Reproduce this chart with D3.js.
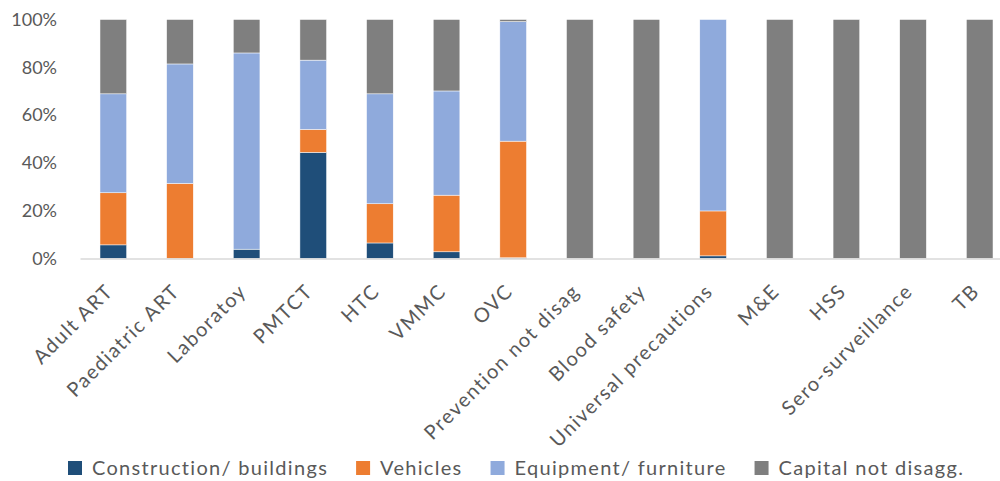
<!DOCTYPE html>
<html>
<head>
<meta charset="utf-8">
<script src="https://cdn.jsdelivr.net/npm/d3@7"></script>
<style>
  html, body { margin: 0; padding: 0; background: #fff; }
  svg { display: block; font-family: Lato, "Open Sans", sans-serif; }
</style>
</head>
<body>
<svg id="chart" width="1000" height="481"></svg>
<script>
// Programme areas along the x axis
const categories = [
  "Adult ART", "Paediatric ART", "Laboratoy", "PMTCT", "HTC", "VMMC", "OVC",
  "Prevention not disag", "Blood safety", "Universal precautions", "M&E", "HSS",
  "Sero-surveillance", "TB"
];

// Share of capital spending (%) by type, one value per programme area
const construction = [5.7, 0, 3.9, 44.4, 6.5, 2.8, 0.3, 0, 0, 1.1, 0, 0, 0, 0];
const vehicles     = [21.8, 31.4, 0, 9.6, 16.4, 23.7, 48.8, 0, 0, 18.8, 0, 0, 0, 0];
const equipment    = [41.4, 50.0, 82.1, 29.0, 46.0, 43.6, 50.0, 0, 0, 80.1, 0, 0, 0, 0];
const notDisagg    = [31.1, 18.6, 14.0, 17.0, 31.1, 29.9, 0.9, 100, 100, 0, 100, 100, 100, 100];

const seriesNames = ["Construction/ buildings", "Vehicles", "Equipment/ furniture", "Capital not disagg."];
const seriesValues = [construction, vehicles, equipment, notDisagg];
const colors = ["#1f4e79", "#ed7d31", "#8faadc", "#7f7f7f"];

const yTicks = [0, 20, 40, 60, 80, 100];

const svg = d3.select("#chart");
const textColor = "#595959";

// Build a row table for the stack layout
const keys = seriesNames.map((_, i) => "s" + i);
const rows = categories.map((c, j) => {
  const r = { category: c };
  keys.forEach((k, i) => { r[k] = seriesValues[i][j]; });
  return r;
});
const stacked = d3.stack().keys(keys)(rows);

const x = d3.scaleBand().domain(categories).range([80, 1013]).paddingInner(0.6).paddingOuter(0.3);
const y = d3.scaleLinear().domain([0, 100]).range([258.5, 19.5]);

// Y axis labels (no gridlines)
const yAxis = svg.append("g").attr("transform", "translate(57,0)")
  .call(d3.axisLeft(y).tickValues(yTicks).tickFormat(d => d + "%").tickSize(0).tickPadding(0));
yAxis.select(".domain").remove();
yAxis.selectAll("text").attr("fill", textColor).style("font-size", "18px")
  .style("font-family", "Lato, sans-serif");

// Stacked bars
svg.append("g").selectAll("g")
  .data(stacked)
  .join("g")
  .attr("fill", (d, i) => colors[i])
  .selectAll("rect")
  .data(d => d)
  .join("rect")
  .attr("x", d => x(d.data.category))
  .attr("width", x.bandwidth())
  .attr("y", d => y(d[1]))
  .attr("height", d => Math.max(0, y(d[0]) - y(d[1])))
  .attr("stroke", "#ffffff")
  .attr("stroke-width", 0.5);

// Category axis with rotated labels
const xAxis = svg.append("g").attr("transform", `translate(0,${y(0)})`)
  .call(d3.axisBottom(x).tickSize(0).tickPadding(0));
xAxis.select(".domain").attr("stroke", "#d9d9d9").attr("stroke-width", 1.5);
xAxis.selectAll(".tick text")
  .attr("fill", textColor)
  .style("font-size", "20px")
  .style("letter-spacing", "1.5px")
  .style("font-family", "Lato, sans-serif")
  .attr("text-anchor", "end")
  .attr("dy", 0)
  .attr("y", 0)
  .attr("transform", "translate(1,34) rotate(-45)");

// Legend
const legend = svg.append("g").attr("transform", "translate(68,468)");
let lx = 0;
seriesNames.forEach((name, i) => {
  const item = legend.append("g").attr("transform", `translate(${lx},0)`);
  item.append("rect").attr("x", 0).attr("y", -7).attr("width", 14).attr("height", 14).attr("fill", colors[i]);
  const t = item.append("text")
    .attr("x", 24).attr("y", 0).attr("dy", "0.36em")
    .attr("fill", textColor)
    .style("font-size", "20px")
    .style("letter-spacing", "1.3px")
    .text(name);
  lx += 24 + t.node().getComputedTextLength() + 28;
});
</script>
</body>
</html>
